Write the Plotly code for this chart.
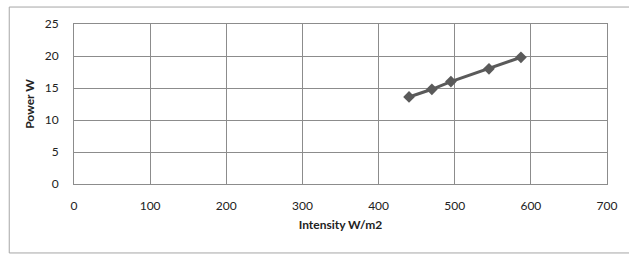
import plotly.graph_objects as go

intensity = [440, 470, 495, 545, 587]
power = [13.6, 14.8, 16.0, 18.0, 19.8]
x_ticks = [0, 100, 200, 300, 400, 500, 600, 700]
y_ticks = [0, 5, 10, 15, 20, 25]

fig = go.Figure()
fig.add_trace(go.Scatter(
    x=intensity, y=power, mode="lines+markers",
    line=dict(color="#5a5a5a", width=3),
    marker=dict(symbol="diamond", size=9, color="#5a5a5a"),
    showlegend=False,
))

font_family = "Lato, Open Sans, sans-serif"
fig.update_layout(
    width=629, height=255,
    margin=dict(l=74, r=20, t=24, b=71),
    paper_bgcolor="white", plot_bgcolor="white",
    font=dict(family=font_family, size=12, color="#222"),
    xaxis=dict(
        range=[0, 700], tickvals=x_ticks, ticktext=[str(v) for v in x_ticks],
        showgrid=True, gridcolor="#8c8c8c", gridwidth=1,
        showline=True, linecolor="#8c8c8c", mirror=True,
        zeroline=False, ticks="", ticklabelstandoff=11,
        tickfont=dict(size=12, color="#222"),
        title=dict(text="<b>Intensity W/m2</b>", font=dict(size=12, color="#222"), standoff=8),
    ),
    yaxis=dict(
        range=[0, 25], tickvals=y_ticks, ticktext=[str(v) for v in y_ticks],
        showgrid=True, gridcolor="#8c8c8c", gridwidth=1,
        showline=True, linecolor="#8c8c8c", mirror=True,
        zeroline=False, ticks="", ticklabelstandoff=12,
        tickfont=dict(size=12, color="#222"),
        title=dict(text="<b>Power W</b>", font=dict(size=12, color="#222"), standoff=7),
    ),
)
fig.add_shape(type="rect", xref="paper", yref="paper",
              x0=-0.1215, x1=1.12, y0=-0.431, y1=1.106,
              line=dict(color="#a6a6a6", width=1), layer="below")

fig.write_html("out.html", config={"displayModeBar": False},
               post_script="document.body.style.margin='0';document.body.style.overflow='hidden';")
